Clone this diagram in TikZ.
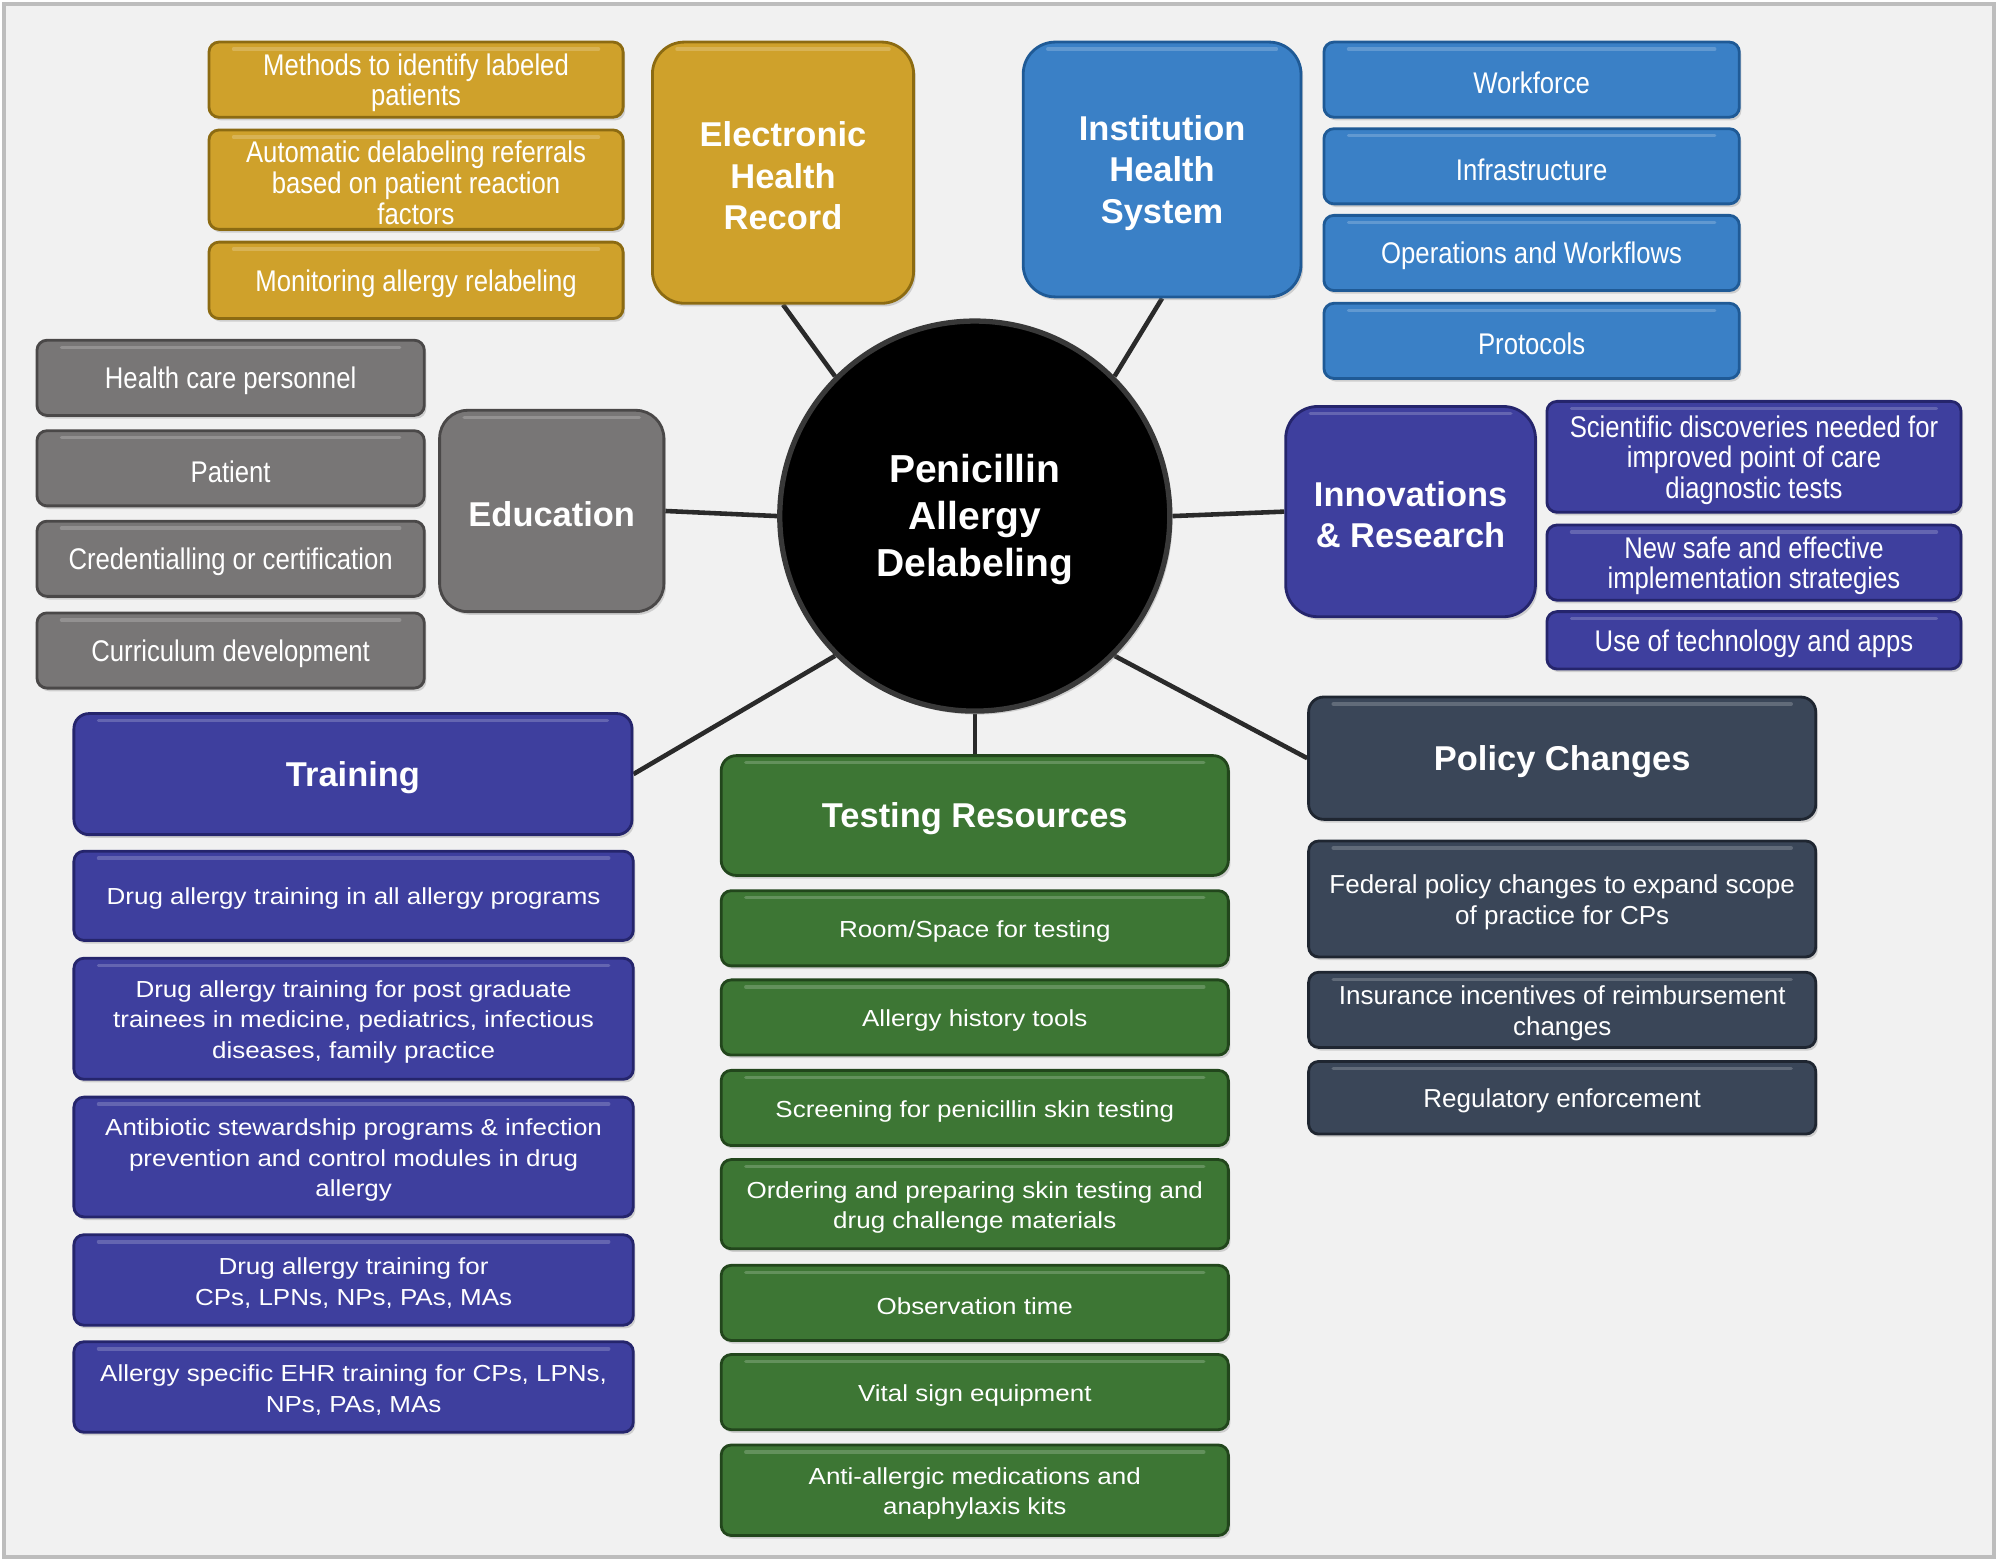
\documentclass[tikz,border=0pt]{standalone}
\usepackage{fontspec}
\setmainfont{Liberation Sans}
\newfontfamily\condf[FakeStretch=0.86]{Liberation Sans}
\newfontfamily\widef[FakeStretch=1.12]{Liberation Sans}
\usetikzlibrary{shadows}
\pgfdeclarelayer{back}
\pgfdeclarelayer{mid}
\pgfsetlayers{back,mid,main}
\definecolor{gold}{HTML}{CFA12B}
\definecolor{goldd}{HTML}{8C6B12}
\definecolor{ihsb}{HTML}{3A80C6}
\definecolor{ihsbd}{HTML}{1F5A96}
\definecolor{gry}{HTML}{787676}
\definecolor{gryd}{HTML}{4A4848}
\definecolor{indg}{HTML}{3E3F9E}
\definecolor{indgd}{HTML}{25256C}
\definecolor{grn}{HTML}{3D7634}
\definecolor{grnd}{HTML}{22461C}
\definecolor{slate}{HTML}{3A4658}
\definecolor{slated}{HTML}{1F2631}
\definecolor{bgc}{HTML}{F1F1F1}
\definecolor{framec}{HTML}{BDBDBD}
\definecolor{connc}{HTML}{2A2A2A}
\tikzset{
  bx/.style={inner sep=0pt, line width=0.8pt,
    drop shadow={shadow xshift=0.6pt, shadow yshift=-0.9pt, opacity=0.3},
    path picture={\draw[white, opacity=0.2, line width=1pt, line cap=round]
      ([xshift=7pt,yshift=-2pt]path picture bounding box.north west) --
      ([xshift=-7pt,yshift=-2pt]path picture bounding box.north east);}},
  kid/.style={bx, rounded corners=0.1cm},
  txt/.style={text=white, align=center, inner sep=0pt},
  cond/.style={txt, font=\condf\fontsize{8.5pt}{8.7pt}\selectfont},
  wide/.style={txt, font=\widef\fontsize{6.6pt}{8.7pt}\selectfont},
  norm/.style={txt, font=\fontsize{7.4pt}{8.7pt}\selectfont},
  headt/.style={txt, font=\bfseries\fontsize{9.8pt}{11.8pt}\selectfont},
  head/.style={bx},
  goldk/.style={kid, fill=gold, draw=goldd},
  bluek/.style={kid, fill=ihsb, draw=ihsbd},
  grayk/.style={kid, fill=gry, draw=gryd},
  indk/.style={kid, fill=indg, draw=indgd},
  testk/.style={kid, fill=grn, draw=grnd},
  polk/.style={kid, fill=slate, draw=slated},
  conn/.style={draw=connc, line width=1.3pt},
}
% #1 name, #2 shape style, #3 text style, #4 x1, #5 y1, #6 x2, #7 y2, #8 text
\newcommand\bx[8]{%
  \pgfmathsetmacro\bw{(#6-#4)*0.012742}%
  \pgfmathsetmacro\bh{(#7-#5)*0.012742}%
  \node[#2, minimum width=\bw cm, minimum height=\bh cm] (#1) at ({(#4+#6)/2},{(#5+#7)/2}) {};
  \node[#3] (#1-t) at ([yshift=-0.9pt]#1.center) {#8};}
\begin{document}
\begin{tikzpicture}[x=0.012742cm, y=-0.012742cm]
\useasboundingbox (0,0) rectangle (1568,1226);
\begin{pgfonlayer}{back}
\fill[white] (0,0) rectangle (1568,1226);
\draw[fill=bgc, draw=framec, line width=1.2pt] (3,3) rectangle (1565,1222);
\end{pgfonlayer}

% centre
\node[circle, fill=black, draw=black!78, line width=1.5pt, minimum size=3.9cm,
  inner sep=0pt, drop shadow={shadow xshift=0.8pt, shadow yshift=-1pt, opacity=0.3}]
  (c) at (765,405) {};
\node[txt, font=\bfseries\fontsize{11.1pt}{13.4pt}\selectfont] (c-t)
  at ([yshift=-1pt]c.center) {Penicillin\\Allergy\\Delabeling};

% Electronic Health Record
\bx{ehr}{head, rounded corners=0.32cm, fill=gold, draw=goldd}{headt}{512}{33}{717}{238}{Electronic\\Health\\Record}
\bx{e1}{goldk}{cond}{164}{33}{489}{92}{Methods to identify labeled\\patients}
\bx{e2}{goldk}{cond}{164}{102}{489}{180}{Automatic delabeling referrals\\based on patient reaction\\factors}
\bx{e3}{goldk}{cond}{164}{190}{489}{250}{Monitoring allergy relabeling}

% Institution Health System
\bx{ihs}{head, rounded corners=0.32cm, fill=ihsb, draw=ihsbd}{headt}{803}{33}{1021}{233}{Institution\\Health\\System}
\bx{i1}{bluek}{cond}{1039}{33}{1365}{92}{Workforce}
\bx{i2}{bluek}{cond}{1039}{101}{1365}{160}{Infrastructure}
\bx{i3}{bluek}{cond}{1039}{169}{1365}{228}{Operations and Workflows}
\bx{i4}{bluek}{cond}{1039}{238}{1365}{297}{Protocols}

% Education
\bx{edu}{head, rounded corners=0.28cm, fill=gry, draw=gryd}{headt}{345}{322}{521}{480}{Education}
\bx{d1}{grayk}{cond}{29}{267}{333}{326}{Health care personnel}
\bx{d2}{grayk}{cond}{29}{338}{333}{397}{Patient}
\bx{d3}{grayk}{cond}{29}{409}{333}{468}{Credentialling or certification}
\bx{d4}{grayk}{cond}{29}{481}{333}{540}{Curriculum development}

% Innovations & Research
\bx{inn}{head, rounded corners=0.32cm, fill=indg, draw=indgd}{headt}{1009}{319}{1205}{484}{Innovations\\\& Research}
\bx{n1}{indk}{cond}{1214}{315}{1539}{402}{Scientific discoveries needed for\\improved point of care\\diagnostic tests}
\bx{n2}{indk}{cond}{1214}{412}{1539}{471}{New safe and effective\\implementation strategies}
\bx{n3}{indk}{cond}{1214}{480}{1539}{525}{Use of technology and apps}

% Training
\bx{tr}{head, rounded corners=0.15cm, fill=indg, draw=indgd}{headt}{58}{560}{496}{655}{Training}
\bx{t1}{indk}{wide}{58}{668}{497}{738}{Drug allergy training in all allergy programs}
\bx{t2}{indk}{wide}{58}{752}{497}{847}{Drug allergy training for post graduate\\trainees in medicine, pediatrics, infectious\\diseases, family practice}
\bx{t3}{indk}{wide}{58}{861}{497}{955}{Antibiotic stewardship programs \& infection\\prevention and control modules in drug\\allergy}
\bx{t4}{indk}{wide}{58}{969}{497}{1040}{Drug allergy training for\\CPs, LPNs, NPs, PAs, MAs}
\bx{t5}{indk}{wide}{58}{1053}{497}{1124}{Allergy specific EHR training for CPs, LPNs,\\NPs, PAs, MAs}

% Testing Resources
\bx{te}{head, rounded corners=0.15cm, fill=grn, draw=grnd}{headt}{566}{593}{964}{687}{Testing Resources}
\bx{s1}{testk}{wide}{566}{699}{964}{758}{Room/Space for testing}
\bx{s2}{testk}{wide}{566}{769}{964}{828}{Allergy history tools}
\bx{s3}{testk}{wide}{566}{840}{964}{899}{Screening for penicillin skin testing}
\bx{s4}{testk}{wide}{566}{910}{964}{980}{Ordering and preparing skin testing and\\drug challenge materials}
\bx{s5}{testk}{wide}{566}{993}{964}{1052}{Observation time}
\bx{s6}{testk}{wide}{566}{1063}{964}{1122}{Vital sign equipment}
\bx{s7}{testk}{wide}{566}{1134}{964}{1205}{Anti-allergic medications and\\anaphylaxis kits}

% Policy Changes
\bx{po}{head, rounded corners=0.15cm, fill=slate, draw=slated}{headt}{1027}{547}{1425}{643}{Policy Changes}
\bx{p1}{polk}{norm}{1027}{660}{1425}{751}{Federal policy changes to expand scope\\of practice for CPs}
\bx{p2}{polk}{norm}{1027}{763}{1425}{822}{Insurance incentives of reimbursement\\changes}
\bx{p3}{polk}{norm}{1027}{833}{1425}{890}{Regulatory enforcement}

% connectors
\begin{pgfonlayer}{mid}
\draw[conn] (c.135) -- (ehr.south);
\draw[conn] (c.45) -- (ihs.south);
\draw[conn] (c.180) -- (edu.east);
\draw[conn] (c.0) -- (inn.west);
\draw[conn] (c.225) -- (tr.east);
\draw[conn] (c.270) -- (te.north);
\draw[conn] (c.315) -- (po.west);
\end{pgfonlayer}
\end{tikzpicture}
\end{document}
